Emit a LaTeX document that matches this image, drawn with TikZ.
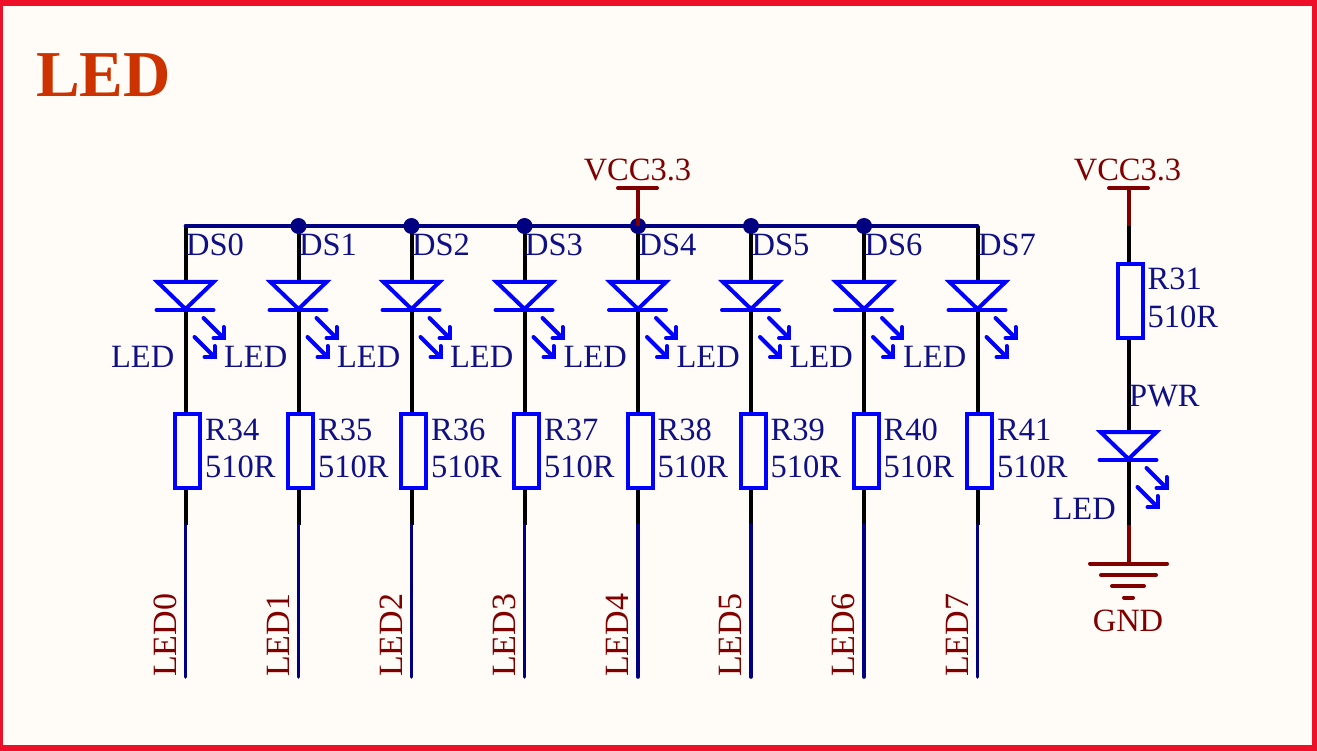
\documentclass[tikz,border=0pt]{standalone}
\usepackage{fontspec}
\setmainfont{Liberation Serif}
\definecolor{paper}{HTML}{FFFCF8}
\definecolor{frame}{HTML}{EE1028}
\definecolor{navy}{HTML}{000080}
\definecolor{labelblue}{HTML}{101085}
\definecolor{maroon}{HTML}{800000}
\definecolor{partblue}{HTML}{0000FF}
\definecolor{titlered}{HTML}{CC3300}
\tikzset{
  x=1pt,y=-1pt,
  wire/.style={line width=4pt,draw=black},
  netwire/.style={line width=3.6pt,draw=navy,line cap=round},
  pwrwire/.style={line width=4pt,draw=maroon},
  part/.style={line width=4pt,draw=partblue},
  resbox/.style={rectangle,draw=partblue,line width=4pt,fill=none,inner sep=0pt},
  lbl/.style={text=labelblue,font=\fontsize{32.5}{32.5}\selectfont,inner sep=0pt},
  pwrlbl/.style={text=maroon,font=\fontsize{32.5}{32.5}\selectfont,inner sep=0pt},
  netlbl/.style={text=maroon,font=\fontsize{34}{34}\selectfont,inner sep=0pt},
  junction/.style={circle,fill=navy,draw=none,minimum size=16pt,inner sep=0pt},
  ledarrow/.style={line width=4pt,draw=partblue,line cap=round}
}
\newcommand{\ledsym}[3]{% x, top y, name
  \draw[part,line join=miter] (#1-28,#2) -- (#1+28,#2) -- (#1,#2+27) -- cycle;
  \draw[part,line cap=round] (#1-29,#2+28) -- (#1+28,#2+28);
  \draw[ledarrow] (#1+18,#2+36) -- (#1+38,#2+56);
  \draw[ledarrow] (#1+38,#2+45) -- (#1+38,#2+56) -- (#1+28,#2+56);
  \draw[ledarrow] (#1+9,#2+55) -- (#1+29,#2+75);
  \draw[ledarrow] (#1+29,#2+64) -- (#1+29,#2+75) -- (#1+19,#2+75);
}
\begin{document}
\begin{tikzpicture}
\useasboundingbox (0,0) rectangle (1317,751);
\fill[frame] (0,0) rectangle (1317,751);
\fill[paper] (3,6) rectangle (1312,745);
\node[anchor=base west,text=titlered,inner sep=0pt,font=\fontsize{65.5}{65.5}\selectfont\bfseries] (title) at (36,97) {LED};
% bus
\coordinate (busL) at (185.5,226);
\coordinate (busR) at (977.5,226);
\foreach \i/\x/\rn in {0/185.5/34,1/298.5/35,2/411.5/36,3/524.5/37,4/638/38,5/751/39,6/864/40,7/977.5/41}{
  \coordinate (top\i) at (\x,226);
  \coordinate (cath\i) at (\x,310);
  \coordinate (anode\i) at (\x,282);
  \coordinate (netstart\i) at (\x,525);
  \coordinate (netend\i) at (\x,677);
  \node[resbox,minimum width=25pt,minimum height=74pt] (R\i) at (\x+2,451) {};
  \draw[wire] (top\i) -- (anode\i);
  \draw[wire] (cath\i) -- (R\i.north -| cath\i);
  \draw[wire] (R\i.south -| cath\i) -- (netstart\i);
  \draw[netwire] (netstart\i) -- (netend\i);
  \ledsym{\x}{282}{D\i}
  \node[lbl,anchor=base west] (ds\i) at (\x+0.5,256) {DS\i};
  \node[lbl,anchor=base east] (led\i) at (\x-11,367) {LED};
  \node[lbl,anchor=base west] (rn\i) at (\x+19.5,440) {R\rn};
  \node[lbl,anchor=base west] (rv\i) at (\x+19.5,477) {510R};
  \node[netlbl,anchor=base west,rotate=90] (net\i) at (\x-9.5,677) {LED\i};
}
\draw[netwire] (busL) -- (busR);
\foreach \i in {1,...,6}{ \node[junction] (j\i) at (top\i) {}; }
% VCC on bus
\coordinate (vccA) at (638,188);
\draw[pwrwire] (vccA) -- (top4);
\draw[pwrwire,line cap=round] (618,188) -- (657,188);
\node[pwrlbl,anchor=base] (vccAl) at (637.5,181) {VCC3.3};
% power branch
\coordinate (vccB) at (1128.5,188);
\coordinate (vccBe) at (1128.5,226);
\node[resbox,minimum width=25pt,minimum height=74pt] (R31) at (1130,301) {};
\coordinate (pwrA) at (1128.5,432);
\coordinate (pwrK) at (1128.5,460);
\coordinate (pwrN) at (1128.5,525);
\coordinate (gnd) at (1128.5,563);
\draw[pwrwire] (vccB) -- (vccBe);
\draw[wire] (vccBe) -- (R31.north -| vccBe);
\draw[wire] (R31.south -| vccBe) -- (pwrA);
\draw[wire] (pwrK) -- (pwrN);
\draw[pwrwire] (pwrN) -- (gnd);
\draw[pwrwire,line cap=round] (1109,188) -- (1148,188);
\ledsym{1128.5}{432}{Dp}
\node[pwrlbl,anchor=base] (vccBl) at (1127.5,181) {VCC3.3};
\node[lbl,anchor=base west] (r31n) at (1147.5,290) {R31};
\node[lbl,anchor=base west] (r31v) at (1147.5,327) {510R};
\node[lbl,anchor=base west] (pwrl) at (1129,406) {PWR};
\node[lbl,anchor=base east] (ledp) at (1116,519) {LED};
\foreach \a/\b/\yy in {1090/1167/563.5,1101/1156/575,1112/1144/586,1124/1133/597.5}{
  \draw[pwrwire,line cap=round] (\a,\yy) -- (\b,\yy);
}
\node[pwrlbl,anchor=base] (gndl) at (1128,631) {GND};
\end{tikzpicture}
\end{document}
